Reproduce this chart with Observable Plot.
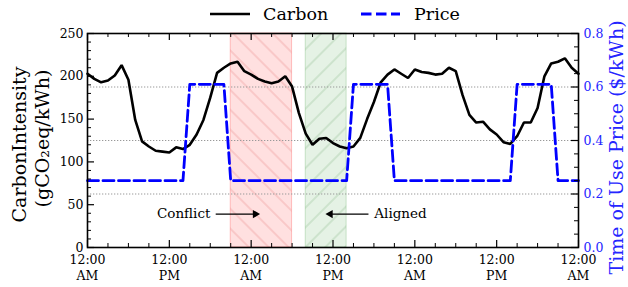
<!DOCTYPE html>
<html><head><meta charset="utf-8">
<script src="https://cdn.jsdelivr.net/npm/d3@7"></script>
<script src="https://cdn.jsdelivr.net/npm/@observablehq/plot@0.6"></script>
<style>
body{margin:0;background:#fff;}
#wrap{width:628px;height:287px;position:relative;overflow:hidden;font-family:"DejaVu Serif",serif;}
#legend{position:absolute;left:0;top:0;}
#chart{position:absolute;left:0;top:28px;}
</style></head><body>
<div id="wrap">
<svg id="legend" width="628" height="28" font-family="DejaVu Serif, serif">
  <line x1="210" x2="250" y1="14" y2="14" stroke="black" stroke-width="2.6"/>
  <text x="263" y="20" font-size="17.5">Carbon</text>
  <line x1="361" x2="400" y1="14" y2="14" stroke="#0000ff" stroke-width="2.8" stroke-dasharray="10.5,4.5"/>
  <text x="414" y="20" font-size="17.5">Price</text>
</svg>
<div id="chart"></div>
</div>
<script>
// ---------- data ----------
const hours = d3.range(0, 73); // hourly samples over three days
const carbon = [203,197,193,195,201,213,196,149,124,118,113,112,111,117,115,120,132,149,175,204,210,215,217,206,202,197,194,192,194,200,188,157,133,120,127,128,122,118,116,118,128,150,170,193,202,208,203,198,208,205,204,202,203,210,206,178,155,146,147,138,132,123,121,130,146,146,163,200,215,217,221,210,203];
const price = [0.25,0.25,0.25,0.25,0.25,0.25,0.25,0.25,0.25,0.25,0.25,0.25,0.25,0.25,0.25,
  0.61,0.61,0.61,0.61,0.61,0.61,
  0.25,0.25,0.25,0.25,0.25,0.25,0.25,0.25,0.25,0.25,0.25,0.25,0.25,0.25,0.25,0.25,0.25,0.25,
  0.61,0.61,0.61,0.61,0.61,0.61,
  0.25,0.25,0.25,0.25,0.25,0.25,0.25,0.25,0.25,0.25,0.25,0.25,0.25,0.25,0.25,0.25,0.25,0.25,
  0.61,0.61,0.61,0.61,0.61,0.61,
  0.25,0.25,0.25,0.25];
const xTicks = [0, 12, 24, 36, 48, 60, 72];
const xTickLabels = ["12:00\nAM","12:00\nPM","12:00\nAM","12:00\nPM","12:00\nAM","12:00\nPM","12:00\nAM"];
const xMinorTicks = [3,6,9,15,18,21,27,30,33,39,42,45,51,54,57,63,66,69];
const carbonTicks = [0, 50, 100, 150, 200, 250];
const carbonMinorTicks = [10,20,30,40,60,70,80,90,110,120,130,140,160,170,180,190,210,220,230,240];
const priceTicks = [0.0, 0.2, 0.4, 0.6, 0.8];
const priceTickLabels = ["0.0","0.2","0.4","0.6","0.8"];
const priceMinorTicks = [0.05,0.1,0.15,0.25,0.3,0.35,0.45,0.5,0.55,0.65,0.7,0.75];
const priceGrid = [0.2, 0.4, 0.6];
const spans = [
  {label: "Conflict", start: 21, end: 30},
  {label: "Aligned", start: 32, end: 38}
];
const annotations = [
  {label: "Conflict", tx: 14.1, ty: 40, from: 18.8, to: 24.6, ay: 39},
  {label: "Aligned",  tx: 45.9, ty: 40, from: 41.2, to: 35.6, ay: 39}
];

// ---------- layout ----------
const PRICE_MAX = 0.8, CARBON_MAX = 250;
const K = CARBON_MAX / PRICE_MAX; // map price onto the carbon scale (twin axis)
const W = 628, H = 259;
const M = {top: 5, right: 50, bottom: 40, left: 87};
const innerW = W - M.left - M.right, innerH = H - M.top - M.bottom;
const rows = hours.map((h, i) => ({h, carbon: carbon[i], price: price[i] * K}));
const blue = "#0000ff";
const MAJ = 7, MIN = 4;
const FONT = '"DejaVu Serif", serif';

const chart = Plot.plot({
  width: W, height: H,
  marginTop: M.top, marginRight: M.right, marginBottom: M.bottom, marginLeft: M.left,
  style: {fontFamily: FONT, fontSize: "12.5px", color: "black", background: "white", overflow: "visible"},
  x: {domain: [0, 72]},
  y: {domain: [0, CARBON_MAX]},
  marks: [
    // shaded spans
    Plot.rect([spans[0]], {x1: "start", x2: "end", fill: "rgba(255,0,0,0.12)", stroke: "rgba(255,0,0,0.22)", strokeWidth: 1}),
    Plot.rect([spans[0]], {x1: "start", x2: "end", fill: "url(#hatchRed)"}),
    Plot.rect([spans[1]], {x1: "start", x2: "end", fill: "rgba(0,128,0,0.10)", stroke: "rgba(0,128,0,0.18)", strokeWidth: 1}),
    Plot.rect([spans[1]], {x1: "start", x2: "end", fill: "url(#hatchGreen)"}),
    // grid from price axis
    Plot.ruleY(priceGrid, {y: d => d * K, stroke: "#999", strokeWidth: 1, strokeDasharray: "1.3,1.7"}),
    // series
    Plot.line(rows, {x: "h", y: "carbon", stroke: "black", strokeWidth: 2.6, strokeLinejoin: "miter"}),
    Plot.line(rows, {x: "h", y: "price", stroke: blue, strokeWidth: 2.8, strokeDasharray: "11,4.5"}),
    // frame
    Plot.frame({stroke: "black", strokeWidth: 1.6}),
    // inward ticks
    Plot.tickX(xTicks, {x: d => d, insetTop: innerH - MAJ, stroke: "black", strokeWidth: 1.2}),
    Plot.tickX(xTicks, {x: d => d, insetBottom: innerH - MAJ, stroke: "black", strokeWidth: 1.2}),
    Plot.tickX(xMinorTicks, {x: d => d, insetTop: innerH - MIN, stroke: "black", strokeWidth: 1}),
    Plot.tickX(xMinorTicks, {x: d => d, insetBottom: innerH - MIN, stroke: "black", strokeWidth: 1}),
    Plot.tickY(carbonTicks, {y: d => d, insetRight: innerW - MAJ, stroke: "black", strokeWidth: 1.2}),
    Plot.tickY(carbonMinorTicks, {y: d => d, insetRight: innerW - MIN, stroke: "black", strokeWidth: 1}),
    Plot.tickY(priceTicks, {y: d => d * K, insetLeft: innerW - MAJ, stroke: "black", strokeWidth: 1.2}),
    Plot.tickY(priceMinorTicks, {y: d => d * K, insetLeft: innerW - MIN, stroke: "black", strokeWidth: 1}),
    // axes labels
    Plot.axisX({ticks: xTicks, tickSize: 0, tickPadding: 5, lineHeight: 1.3,
      tickFormat: d => xTickLabels[xTicks.indexOf(d)], label: null}),
    Plot.axisY({anchor: "left", ticks: carbonTicks, tickSize: 0, tickPadding: 4, label: null}),
    Plot.axisY({anchor: "right", ticks: priceTicks.map(p => p * K), tickSize: 0, tickPadding: 5, label: null, fill: "#2525ff",
      tickFormat: d => priceTickLabels[d3.minIndex(priceTicks, p => Math.abs(p * K - d))]}),
    // axis titles
    Plot.text(["CarbonIntensity"], {text: d => d, frameAnchor: "left", textAnchor: "middle", lineAnchor: "middle", rotate: -90, dx: -68, dy: 4, fontSize: 19}),
    Plot.text(["(gCO₂eq/kWh)"], {text: d => d, frameAnchor: "left", textAnchor: "middle", lineAnchor: "middle", rotate: -90, dx: -45, dy: -2, fontSize: 19}),
    Plot.text(["Time of Use Price ($/kWh)"], {text: d => d, frameAnchor: "right", textAnchor: "middle", lineAnchor: "middle", rotate: -90, dx: 38, dy: 7, fontSize: 19, fill: "#2525ff"}),
    // annotations
    Plot.text(annotations, {x: "tx", y: "ty", text: "label", fontSize: 13.5}),
    Plot.link(annotations, {x1: "from", x2: "to", y1: "ay", y2: "ay", stroke: "black", strokeWidth: 1.3}),
    Plot.dot(annotations, {x: "to", y: "ay", symbol: "triangle", r: 3.1, fill: "black", stroke: "none",
      rotate: d => d.to > d.from ? 90 : -90})
  ]
});

// hatch patterns
const svg = d3.select(chart);
const defs = svg.insert("defs", ":first-child");
function hatch(id, angle, color) {
  const p = defs.append("pattern").attr("id", id).attr("patternUnits", "userSpaceOnUse")
    .attr("width", 14).attr("height", 14).attr("patternTransform", `rotate(${angle})`);
  p.append("line").attr("x1", 7).attr("x2", 7).attr("y1", 0).attr("y2", 14)
    .attr("stroke", color).attr("stroke-width", 1);
}
hatch("hatchRed", -45, "rgba(230,120,120,0.45)");
hatch("hatchGreen", 45, "rgba(90,160,90,0.35)");

document.getElementById("chart").appendChild(chart);
</script>
</body></html>
